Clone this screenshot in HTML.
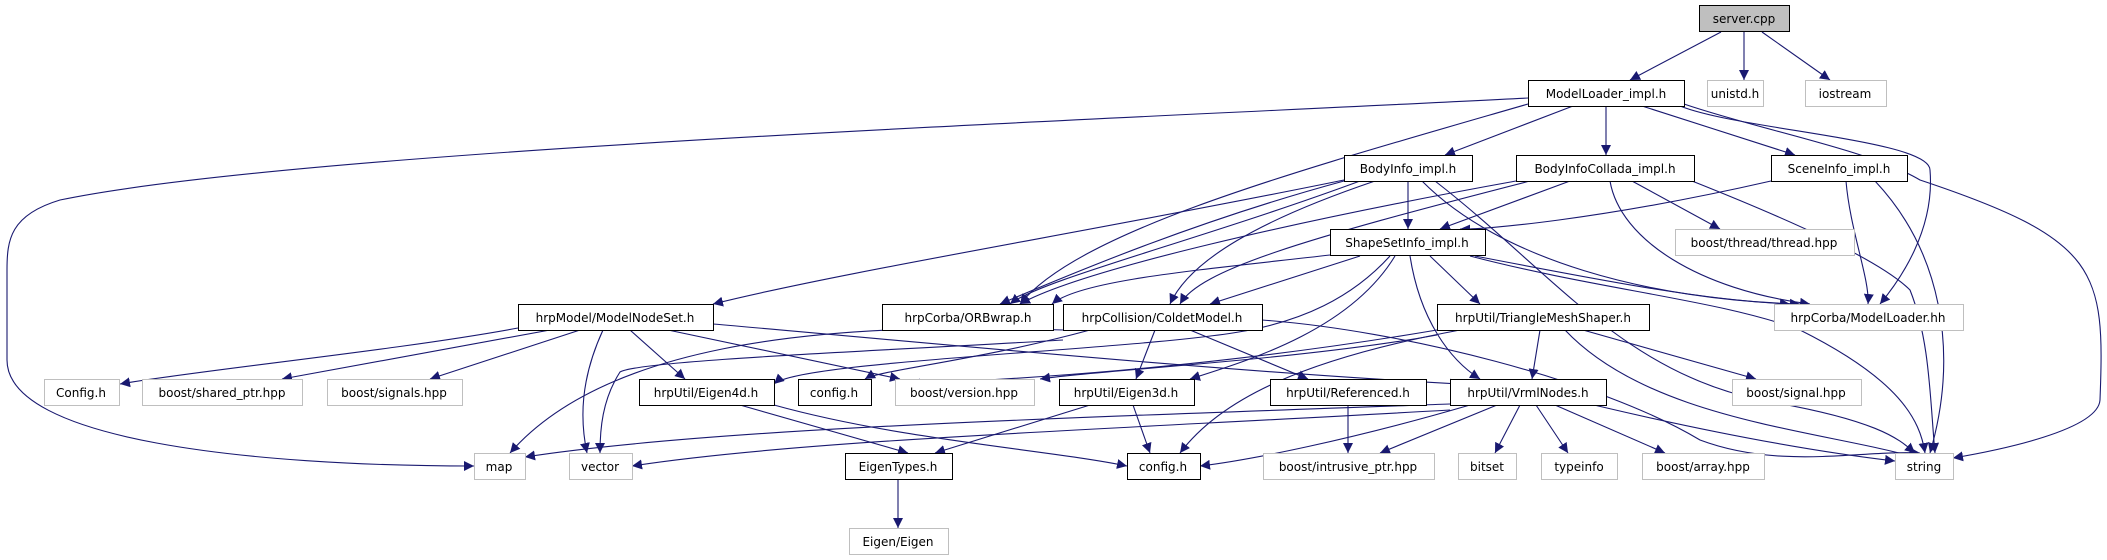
<!DOCTYPE html>
<html><head><meta charset="utf-8"><style>
html,body{margin:0;padding:0;background:#fff;}
svg{display:block;}
text{font-family:"DejaVu Sans","Liberation Sans",sans-serif;font-size:12px;fill:#000;}
</style></head><body>
<svg width="2107" height="560" viewBox="0 0 2107 560" xmlns="http://www.w3.org/2000/svg">
<defs>
<marker id="a" viewBox="0 0 10 10" refX="10" refY="5" markerWidth="10" markerHeight="10" markerUnits="userSpaceOnUse" orient="auto">
<path d="M0,0 L10,5 L0,10 z" fill="#191970"/>
</marker>
</defs>
<g fill="none" stroke="#191970" stroke-width="1.1" marker-end="url(#a)">
<!-- server -->
<path d="M1721,32 L1630,80"/>
<path d="M1744,32 L1744,80"/>
<path d="M1762,32 L1830,80"/>
<!-- ModelLoader -->
<path d="M1528,98 C1100,120 300,150 60,200 C10,215 7,240 7,270 L7,360 C7,440 250,466 474,466"/>
<path d="M1528,104 C1300,170 1080,230 1020,304"/>
<path d="M1573,106 L1445,155"/>
<path d="M1606,106 L1606,155"/>
<path d="M1642,106 L1795,155"/>
<path d="M1680,106 C1740,130 1930,140 1930,170 C1935,230 1900,280 1880,304"/>
<path d="M1684,104 C1760,130 1870,150 1920,180 C2100,240 2105,270 2100,400 C2098,430 2000,450 1953,458"/>
<!-- BodyInfo -->
<path d="M1344,180 C1100,230 850,270 713,304"/>
<path d="M1344,181 C1200,220 1080,270 1000,304"/>
<path d="M1360,181 C1200,240 1040,280 1010,304"/>
<path d="M1375,181 C1260,220 1190,260 1170,304"/>
<path d="M1408,181 L1408,229"/>
<path d="M1422,181 C1500,260 1650,300 1800,304"/>
<path d="M1435,181 C1550,270 1620,370 1760,400 C1880,420 1900,440 1915,453"/>
<!-- Collada -->
<path d="M1516,181 C1300,220 1080,270 1020,304"/>
<path d="M1530,181 C1300,240 1200,270 1180,304"/>
<path d="M1570,181 L1440,229"/>
<path d="M1610,181 C1620,240 1700,290 1810,304"/>
<path d="M1632,181 L1720,229"/>
<path d="M1692,181 C1790,220 1880,260 1910,290 C1930,340 1930,400 1935,453"/>
<!-- Scene -->
<path d="M1771,181 C1600,220 1480,230 1460,229"/>
<path d="M1846,181 C1850,230 1870,280 1868,304"/>
<path d="M1875,181 C1940,250 1960,350 1930,453"/>
<!-- ShapeSet -->
<path d="M1330,255 C1200,270 1080,280 1052,304"/>
<path d="M1360,256 L1210,304"/>
<path d="M1390,256 C1350,300 1300,320 1250,330 C1150,350 800,360 774,384"/>
<path d="M1395,256 C1350,330 1250,360 1190,379"/>
<path d="M1410,256 C1420,320 1450,360 1480,379"/>
<path d="M1430,256 L1480,304"/>
<path d="M1475,256 C1600,280 1700,300 1790,304"/>
<path d="M1470,256 C1600,290 1720,300 1800,330 C1900,380 1920,420 1925,453"/>
<!-- ModelNodeSet -->
<path d="M518,328 C400,350 200,370 120,384"/>
<path d="M550,330 L282,379"/>
<path d="M580,330 L430,379"/>
<path d="M603,330 C580,380 580,420 587,453"/>
<path d="M630,330 L685,379"/>
<path d="M668,330 L900,379"/>
<path d="M713,324 C900,340 1200,370 1460,384"/>
<!-- Coldet -->
<path d="M1063,330 C800,320 600,350 510,453"/>
<path d="M1090,330 C980,360 880,370 865,379"/>
<path d="M1155,330 L1136,379"/>
<path d="M1190,330 L1308,379"/>
<path d="M1262,320 C1400,330 1600,380 1700,440 C1780,470 1860,450 1920,453"/>
<path d="M1063,340 C900,350 640,360 620,372 C602,400 600,430 600,453"/>
<!-- Triangle -->
<path d="M1437,330 C1200,370 1000,380 910,384"/>
<path d="M1460,330 C1300,360 1220,400 1180,453"/>
<path d="M1540,330 L1532,379"/>
<path d="M1583,330 L1756,379"/>
<path d="M1565,330 C1650,420 1820,430 1918,458"/>
<path d="M1437,335 C1300,360 1100,370 1040,379"/>
<!-- Eigen4d -->
<path d="M740,405 L908,453"/>
<path d="M774,405 C900,440 1050,450 1127,466"/>
<!-- Eigen3d -->
<path d="M1090,405 L935,453"/>
<path d="M1133,405 L1150,453"/>
<!-- Referenced -->
<path d="M1348,405 L1348,453"/>
<!-- Vrml -->
<path d="M1450,404 C1000,420 700,430 525,457"/>
<path d="M1450,410 C1100,430 800,440 632,466"/>
<path d="M1470,405 C1350,440 1250,460 1200,466"/>
<path d="M1497,405 L1380,453"/>
<path d="M1520,405 L1495,453"/>
<path d="M1536,405 L1568,453"/>
<path d="M1555,405 L1665,453"/>
<path d="M1594,405 C1700,430 1800,450 1895,461"/>
<!-- EigenTypes -->
<path d="M898,479 L898,528"/>
</g>
<g stroke-width="1">
<rect x="1699.5" y="5.5" width="90" height="26" fill="#bfbfbf" stroke="#000"/>
<g fill="#fff" stroke="#000">
<rect x="1528.5" y="80.5" width="156" height="26"/>
<rect x="1344.5" y="155.5" width="128" height="26"/>
<rect x="1516.5" y="155.5" width="178" height="26"/>
<rect x="1771.5" y="155.5" width="136" height="26"/>
<rect x="1330.5" y="229.5" width="155" height="26"/>
<rect x="518.5" y="304.5" width="195" height="26"/>
<rect x="882.5" y="304.5" width="171" height="26"/>
<rect x="1063.5" y="304.5" width="199" height="26"/>
<rect x="1437.5" y="304.5" width="212" height="26"/>
<rect x="639.5" y="379.5" width="135" height="26"/>
<rect x="798.5" y="379.5" width="73" height="26"/>
<rect x="1059.5" y="379.5" width="135" height="26"/>
<rect x="1270.5" y="379.5" width="156" height="26"/>
<rect x="1450.5" y="379.5" width="156" height="26"/>
<rect x="845.5" y="453.5" width="107" height="26"/>
<rect x="1127.5" y="453.5" width="73" height="26"/>
</g>
<g fill="#fff" stroke="#bfbfbf">
<rect x="1707.5" y="80.5" width="56" height="26"/>
<rect x="1805.5" y="80.5" width="81" height="26"/>
<rect x="1675.5" y="229.5" width="179" height="26"/>
<rect x="1774.5" y="304.5" width="189" height="26"/>
<rect x="44.5" y="379.5" width="75" height="26"/>
<rect x="142.5" y="379.5" width="160" height="26"/>
<rect x="327.5" y="379.5" width="135" height="26"/>
<rect x="895.5" y="379.5" width="139" height="26"/>
<rect x="1732.5" y="379.5" width="129" height="26"/>
<rect x="474.5" y="453.5" width="51" height="26"/>
<rect x="569.5" y="453.5" width="63" height="26"/>
<rect x="1263.5" y="453.5" width="171" height="26"/>
<rect x="1458.5" y="453.5" width="58" height="26"/>
<rect x="1541.5" y="453.5" width="76" height="26"/>
<rect x="1642.5" y="453.5" width="122" height="26"/>
<rect x="1895.5" y="453.5" width="58" height="26"/>
<rect x="849.5" y="528.5" width="99" height="26"/>
</g>
</g>
<g text-anchor="middle">
<text x="1744" y="23">server.cpp</text>
<text x="1606" y="98">ModelLoader_impl.h</text>
<text x="1735" y="98" fill="#000">unistd.h</text>
<text x="1845" y="98">iostream</text>
<text x="1408" y="173">BodyInfo_impl.h</text>
<text x="1605" y="173">BodyInfoCollada_impl.h</text>
<text x="1839" y="173">SceneInfo_impl.h</text>
<text x="1407" y="247">ShapeSetInfo_impl.h</text>
<text x="1764" y="247">boost/thread/thread.hpp</text>
<text x="615" y="322">hrpModel/ModelNodeSet.h</text>
<text x="968" y="322">hrpCorba/ORBwrap.h</text>
<text x="1162" y="322">hrpCollision/ColdetModel.h</text>
<text x="1543" y="322">hrpUtil/TriangleMeshShaper.h</text>
<text x="1868" y="322">hrpCorba/ModelLoader.hh</text>
<text x="81" y="397">Config.h</text>
<text x="222" y="397">boost/shared_ptr.hpp</text>
<text x="394" y="397">boost/signals.hpp</text>
<text x="706" y="397">hrpUtil/Eigen4d.h</text>
<text x="834" y="397">config.h</text>
<text x="964" y="397">boost/version.hpp</text>
<text x="1126" y="397">hrpUtil/Eigen3d.h</text>
<text x="1348" y="397">hrpUtil/Referenced.h</text>
<text x="1528" y="397">hrpUtil/VrmlNodes.h</text>
<text x="1796" y="397">boost/signal.hpp</text>
<text x="499" y="471">map</text>
<text x="600" y="471">vector</text>
<text x="898" y="471">EigenTypes.h</text>
<text x="1163" y="471">config.h</text>
<text x="1348" y="471">boost/intrusive_ptr.hpp</text>
<text x="1487" y="471">bitset</text>
<text x="1579" y="471">typeinfo</text>
<text x="1703" y="471">boost/array.hpp</text>
<text x="1924" y="471">string</text>
<text x="898" y="546">Eigen/Eigen</text>
</g>
</svg>
</body></html>
